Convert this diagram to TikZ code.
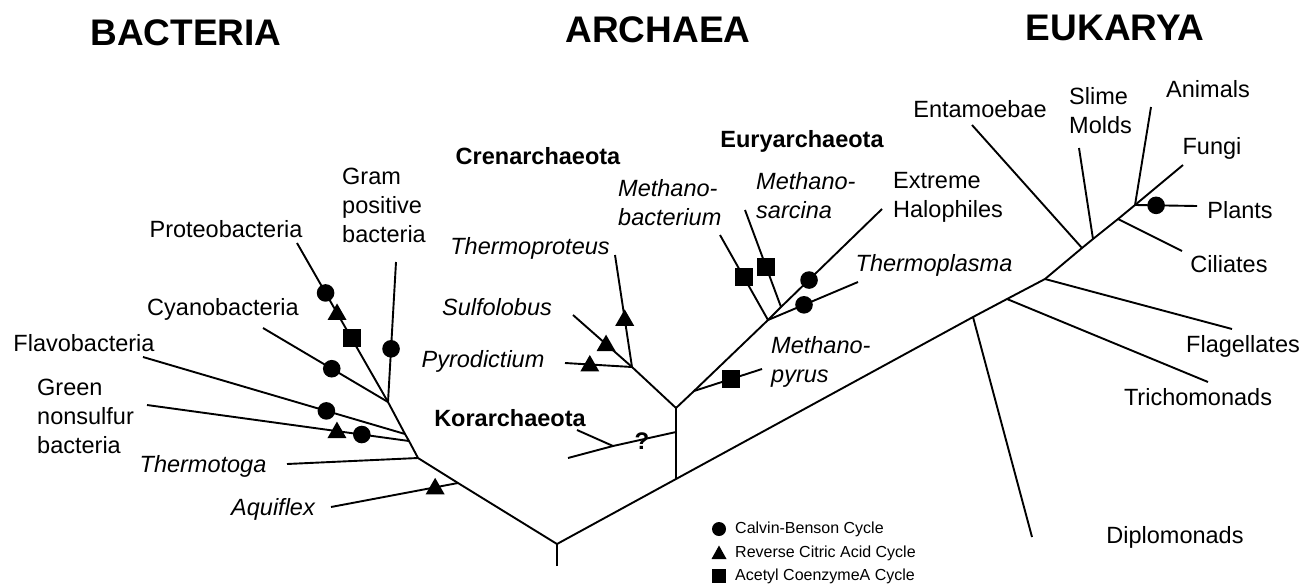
\documentclass[tikz,border=0pt]{standalone}
\usepackage{fontspec}
\setmainfont{Liberation Sans}
\newcommand\mylabfont{\fontsize{23.5}{29}\selectfont}
\tikzset{
  br/.style={line width=1.9pt, line join=round},
  lab/.style={font=\mylabfont, inner sep=0pt, align=left},
  itl/.style={font=\mylabfont\itshape, inner sep=0pt, align=left},
  grp/.style={font=\mylabfont\bfseries, inner sep=0pt},
  dom/.style={font=\fontsize{37}{40}\selectfont\bfseries, inner sep=0pt},
  leg/.style={font=\fontsize{16}{19}\selectfont, inner sep=0pt, anchor=west},
  cb/.pic={\fill (0,0) circle (8.8pt);},
  rca/.pic={\fill (-9.5,7) -- (9.5,7) -- (0,-9.5) -- cycle;},
  acoa/.pic={\fill (-9,-9) rectangle (9,9);},
  lcb/.pic={\fill (0,0) circle (7pt);},
  lrca/.pic={\fill (-7.5,6) -- (7.5,6) -- (0,-7.5) -- cycle;},
  lacoa/.pic={\fill (-7,-7) rectangle (7,7);},
}
\begin{document}
\begin{tikzpicture}[x=1pt,y=-1pt]
\fill[white] (0,0) rectangle (1305,584);
\useasboundingbox (0,0) rectangle (1305,584);

% ---------- coordinates ----------
\coordinate (r0) at (557,566);
\coordinate (r1) at (557,544);
% bacteria
\coordinate (bA) at (418,458);
\coordinate (bAq) at (458,483);
\coordinate (gnJ) at (409,441);
\coordinate (flJ) at (405,434);
\coordinate (bB) at (388,402);
\coordinate (proL) at (297,243);
\coordinate (gpL) at (396,262);
\coordinate (cyL) at (263,328);
\coordinate (flL) at (143,357);
\coordinate (gnL) at (147,405);
\coordinate (thL) at (287,464);
\coordinate (aqL) at (331,507);
% archaea
\coordinate (aK) at (676,479);
\coordinate (kJ) at (676,432);
\coordinate (aJ) at (676,408);
\coordinate (kS) at (613,446);
\coordinate (kL) at (568,458);
\coordinate (kL2) at (577,430);
\coordinate (cJ2) at (632,367);
\coordinate (tpL) at (615,255);
\coordinate (sfL) at (573,315);
\coordinate (pyL) at (565,363);
\coordinate (mpJ) at (694,391);
\coordinate (mpL) at (762,369);
\coordinate (eJ2) at (768,320);
\coordinate (msJ) at (781,307);
\coordinate (ehL) at (882,209);
\coordinate (mbL) at (720,235);
\coordinate (msL) at (745,210);
\coordinate (tmL) at (858,282);
% eukarya
\coordinate (dJ) at (973,317);
\coordinate (tJ) at (1007,299);
\coordinate (fJ) at (1045,279);
\coordinate (eJ) at (1082,248);
\coordinate (sJ) at (1093,239);
\coordinate (cJ) at (1118,219);
\coordinate (crown) at (1135,205);
\coordinate (dpL) at (1032,537);
\coordinate (trL) at (1208,382);
\coordinate (fgL) at (1232,329);
\coordinate (enL) at (972,125);
\coordinate (smL) at (1079,148);
\coordinate (ciL) at (1182,251);
\coordinate (anL) at (1151,107);
\coordinate (fuL) at (1183,165);
\coordinate (plL) at (1197,206);

% ---------- branches ----------
\draw[br] (r0) -- (r1);
\draw[br] (r1) -- (bAq) -- (bA) -- (gnJ) -- (flJ) -- (bB) -- (proL);
\draw[br] (bAq) -- (aqL);
\draw[br] (bA) -- (thL);
\draw[br] (gnJ) -- (gnL);
\draw[br] (flJ) -- (flL);
\draw[br] (bB) -- (cyL);
\draw[br] (bB) -- (gpL);

\draw[br] (r1) -- (aK) -- (dJ) -- (tJ) -- (fJ) -- (eJ) -- (sJ) -- (cJ) -- (crown) -- (anL);
\draw[br] (aK) -- (kJ) -- (aJ);
\draw[br] (kJ) -- (kS) -- (kL);
\draw[br] (kS) -- (kL2);
\draw[br] (aJ) -- (cJ2) -- (sfL);
\draw[br] (cJ2) -- (tpL);
\draw[br] (cJ2) -- (pyL);
\draw[br] (aJ) -- (mpJ) -- (eJ2) -- (msJ) -- (ehL);
\draw[br] (mpJ) -- (mpL);
\draw[br] (eJ2) -- (mbL);
\draw[br] (msJ) -- (msL);
\draw[br] (eJ2) -- (tmL);

\draw[br] (dJ) -- (dpL);
\draw[br] (tJ) -- (trL);
\draw[br] (fJ) -- (fgL);
\draw[br] (eJ) -- (enL);
\draw[br] (sJ) -- (smL);
\draw[br] (cJ) -- (ciL);
\draw[br] (crown) -- (fuL);
\draw[br] (crown) -- (plL);

% ---------- markers ----------
\path (proL) -- (bB) pic[pos=.314]{cb} pic[pos=.44]{rca} pic[pos=.6]{acoa};
\path (gpL) -- (bB) pic[pos=.62]{cb};
\path (cyL) -- (bB) pic[pos=.55]{cb};
\path (flL) -- (flJ) pic[pos=.70]{cb};
\path (gnL) -- (gnJ) pic[pos=.725]{rca} pic[pos=.82]{cb};
\path (aqL) -- (bAq) pic[pos=.82]{rca};
\path (tpL) -- (cJ2) pic[pos=.57]{rca};
\path (sfL) -- (cJ2) pic[pos=.56]{rca};
\path (pyL) -- (cJ2) pic[pos=.37]{rca};
\path (mpJ) -- (mpL) pic[pos=.54]{acoa};
\path (mbL) -- (eJ2) pic[pos=.49]{acoa};
\path (msL) -- (msJ) pic[pos=.59]{acoa};
\path (eJ2) -- (ehL) pic[pos=.36]{cb};
\path (eJ2) -- (tmL) pic[pos=.40]{cb};
\path (crown) -- (plL) pic[pos=.34]{cb};

% ---------- titles ----------
\node[dom] (tB) at (186,33) {BACTERIA};
\node[dom] (tA) at (658,30) {ARCHAEA};
\node[dom] (tE) at (1115,28) {EUKARYA};

% ---------- labels ----------
\node[lab] (nPro) at (226,229) {Proteobacteria};
\node[lab, anchor=west] (nGp) at (342,205) {Gram\\positive\\bacteria};
\node[lab] (nCy) at (223,309) {Cyanobacteria};
\node[lab] (nFl) at (84,343) {Flavobacteria};
\node[lab, anchor=west] (nGn) at (37,416) {Green\\nonsulfur\\bacteria};
\node[itl] (nTh) at (203,466) {Thermotoga};
\node[itl] (nAq) at (273,509) {Aquiflex};

\node[grp] (nCr) at (538,156) {Crenarchaeota};
\node[grp] (nEu) at (802,141) {Euryarchaeota};
\node[grp] (nKo) at (510,418) {Korarchaeota};
\node[font=\fontsize{24}{26}\selectfont\bfseries, inner sep=0pt] (nQ) at (642,441) {?};
\node[itl] (nTp) at (530,248) {Thermoproteus};
\node[itl] (nSf) at (497,307) {Sulfolobus};
\node[itl] (nPy) at (483,361) {Pyrodictium};
\node[itl, anchor=west] (nMb) at (618,203) {Methano-\\bacterium};
\node[itl, anchor=west] (nMs) at (756,196) {Methano-\\sarcina};
\node[itl, anchor=west] (nMp) at (771,362) {Methano-\\pyrus};
\node[lab, anchor=west] (nEh) at (893,197) {Extreme\\Halophiles};
\node[itl] (nTm) at (934,265) {Thermoplasma};

\node[lab] (nEn) at (980,109) {Entamoebae};
\node[lab, anchor=west] (nSm) at (1069,111) {Slime\\Molds};
\node[lab] (nAn) at (1208,89) {Animals};
\node[lab] (nFu) at (1212,148) {Fungi};
\node[lab] (nPl) at (1240,210) {Plants};
\node[lab] (nCi) at (1229,264) {Ciliates};
\node[lab] (nFg) at (1243,346) {Flagellates};
\node[lab] (nTr) at (1198,397) {Trichomonads};
\node[lab] (nDp) at (1175,537) {Diplomonads};

% ---------- legend ----------
\path (719,529) pic{lcb};
\path (719,553) pic{lrca};
\path (719,576) pic{lacoa};
\node[leg] (lg1) at (735,529) {Calvin-Benson Cycle};
\node[leg] (lg2) at (735,553) {Reverse Citric Acid Cycle};
\node[leg] (lg3) at (735,576) {Acetyl CoenzymeA Cycle};
\end{tikzpicture}
\end{document}
